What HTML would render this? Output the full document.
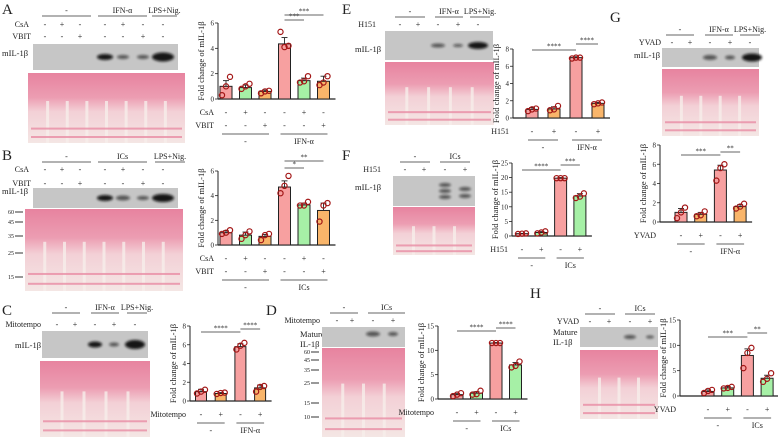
<!DOCTYPE html>
<html><head><meta charset="utf-8"><style>
html,body{margin:0;padding:0;background:#fff;}
svg{display:block;font-family:"Liberation Serif",serif;}
</style></head><body>
<svg id="fig" width="778" height="437" viewBox="0 0 778 437" xmlns="http://www.w3.org/2000/svg">
<defs>
<filter id="blur" x="-50%" y="-100%" width="200%" height="300%"><feGaussianBlur stdDeviation="1.4"/></filter>
<linearGradient id="pon" x1="0" y1="0" x2="0" y2="1">
<stop offset="0" stop-color="#e7839f"/><stop offset="0.35" stop-color="#ec9db2"/><stop offset="0.55" stop-color="#f3d0d6"/><stop offset="1" stop-color="#f4e6e4"/>
</linearGradient>
</defs>
</svg>
<script>
// ---- chart data ----
const aMeans=[1.0,0.9,0.6,4.35,1.45,1.4], aErr=[0.45,0.2,0.1,0.5,0.2,0.4];
const aDots=[[0.3,1.0,1.75],[0.8,1.0,1.2],[0.45,0.6,0.65],[5.3,4.1,4.2],[1.3,1.4,1.8],[1.1,1.3,1.8]];
const aTicks=[0,2,4,6];
const bMeans=[1.0,0.8,0.7,4.7,3.25,2.8], bErr=[0.15,0.25,0.15,0.5,0.15,0.6];
const bDots=[[0.9,1.0,1.2],[0.5,0.8,1.1],[0.4,0.8,0.9],[4.2,4.8,5.6],[3.2,3.2,3.5],[1.9,3.2,3.4]];
const bTicks=[0,2,4,6];
const cMeans=[1.0,0.8,5.8,1.4], cErr=[0.25,0.1,0.3,0.3];
const cDots=[[0.8,1.0,1.2],[0.75,0.85,0.9],[5.5,5.9,6.2],[1.0,1.5,1.6]];
const cTicks=[0,2,4,6,8];
const dMeans=[0.9,1.2,11.5,7.0], dErr=[0.2,0.3,0.1,0.5];
const dDots=[[0.6,0.9,1.2],[0.9,1.0,1.7],[11.5,11.5,11.5],[6.5,6.8,7.7]];
const dTicks=[0,5,10,15];
const eMeans=[1.0,1.05,7.0,1.7], eErr=[0.2,0.25,0.1,0.1];
const eDots=[[0.8,1.0,1.1],[0.9,1.0,1.4],[6.9,7.0,7.0],[1.6,1.7,1.8]];
const eTicks=[0,2,4,6,8];
const fMeans=[0.8,1.2,19.8,13.7], fErr=[0.1,0.3,0.2,0.8];
const fDots=[[0.7,0.8,0.9],[0.9,1.2,1.6],[19.8,19.8,19.8],[13.0,13.5,14.6]];
const fTicks=[0,5,10,15,20,25];
const gMeans=[1.0,0.8,5.4,1.6], gErr=[0.4,0.2,0.5,0.2];
const gDots=[[0.4,1.0,1.5],[0.6,0.7,1.1],[4.3,5.6,6.0],[1.4,1.6,1.9]];
const gTicks=[0,2,4,6,8];
const hMeans=[0.9,1.6,8.0,3.5], hErr=[0.3,0.3,1.3,0.6];
const hDots=[[0.6,1.0,1.2],[1.5,1.6,1.8],[5.5,8.5,9.5],[2.8,3.4,4.5]];
const hTicks=[0,5,10,15];
const rowPM6a=['-','+','-','-','+','-'], rowPM6b=['-','-','+','-','-','+'];
const rowPM4=['-','+','-','+'];
const aSig=[[3,4,'***'],[3,5,'***']], bSig=[[3,4,'*'],[3,5,'**']];
const cSig=[[0,2,'****'],[2,3,'****']], dSig=[[0,2,'****'],[2,3,'****']];
const eSig=[[0,2,'****'],[2,3,'****']], fSig=[[0,2,'****'],[2,3,'***']];
const gSig=[[0,2,'***'],[2,3,'**']], hSig=[[0,2,'***'],[2,3,'**']];
const COL={p:'#f7a0a0',g:'#a6f0a6',o:'#f9b56a'};

const NS='http://www.w3.org/2000/svg';
const svg=document.getElementById('fig');
function el(tag,attrs,parent){const e=document.createElementNS(NS,tag);for(const k in attrs)e.setAttribute(k,attrs[k]);(parent||svg).appendChild(e);return e;}
function grp(name){const g=el('g',{});


return g;}
function txt(p,x,y,s,size,anchor,name){const e=el('text',{x:x,y:y,'font-size':size,'text-anchor':anchor||'middle',fill:'#222'},p);e.textContent=s;


return e;}
function ln(p,x1,y1,x2,y2,w,c){return el('line',{x1:x1,y1:y1,x2:x2,y2:y2,stroke:c||'#333','stroke-width':w||0.8},p);}

function chart(name,G,means,errs,dots,ticks,colors,sig,rows,rowLabels,groups){
  const g=grp(name);
  const max=ticks[ticks.length-1];
  const Y=v=>G.y0-(v/max)*(G.y0-G.y1);
  const X=i=>G.bx0+i*G.step;
  const lastX=X(means.length-1)+G.bw/2+6;
  // y axis
  const ya=ln(g,G.ax,G.y0,G.ax,G.y1,1,'#222');
  
  
  ticks.forEach(t=>{ln(g,G.ax-3,Y(t),G.ax,Y(t),0.8,'#222');txt(g,G.ax-4,Y(t)+2.5,String(t),7,'end','y-tick-label');});
  const xa=ln(g,G.ax,G.y0,lastX,G.y0,1.2,'#222');
  
  
  const yt=txt(g,0,0,'Fold change of mIL-1β',8.5,'middle','y-axis-title');
  yt.setAttribute('transform','translate('+(G.ax-14)+','+((G.y0+G.y1)/2)+') rotate(-90)');
  means.forEach((m,i)=>{
    const b=el('rect',{x:X(i)-G.bw/2,y:Y(m),width:G.bw,height:G.y0-Y(m),fill:colors[i],stroke:'#222','stroke-width':1},g);
    
    
    const e=errs[i];
    ln(g,X(i),Y(m),X(i),Y(m+e),0.9,'#222');ln(g,X(i)-3,Y(m+e),X(i)+3,Y(m+e),0.9,'#222');
    dots[i].forEach((d,j)=>{const c=el('circle',{cx:X(i)+(j-1)*4,cy:Y(d),r:2.6,fill:'none',stroke:'#a31616','stroke-width':1.2},g);
      
      });
  });
  sig.forEach((s,k)=>{const yy=G.sigY[k];ln(g,X(s[0]),yy,X(s[1]),yy,0.8,'#333');txt(g,(X(s[0])+X(s[1]))/2,yy-1.5,s[2],7,'middle','significance-label');});
  rows.forEach((r,ri)=>{const ry=G.y0+13+ri*13;txt(g,G.ax-4-(G.rowLabelOff||0),ry+3,rowLabels[ri],8,'end','condition-label');
    r.forEach((v,i)=>txt(g,X(i),ry+3,v,8,'middle','condition-mark'));});
  const gy=G.y0+13+rows.length*13-4;
  const n=means.length/2;
  groups.forEach((gl,k)=>{const a=X(k*n)-4,b=X(k*n+n-1)+4;ln(g,a,gy,b,gy,0.8,'#333');txt(g,(a+b)/2,gy+10,gl,8,'middle','group-label');});
}

function letter(x,y,s){const t=txt(svg,x,y,s,15,'start','panel-label-'+s.toLowerCase());}
function header(segs,y){segs.forEach(s=>{ln(svg,s[0],y,s[1],y,0.8,'#333');txt(svg,(s[0]+s[1])/2,y-3,s[2],8,'middle','treatment-header');});}
function condRow(label,lx,xs,vals,y){txt(svg,lx,y,label,8,'end','condition-label');xs.forEach((x,i)=>txt(svg,x,y,vals[i],8,'middle','condition-mark'));}
function blot(name,x,y,w,h,bands){const g=grp(name);
  el('rect',{x:x,y:y,width:w,height:h,fill:'#c6c6c6'},g);
  bands.forEach(b=>el('ellipse',{cx:b[0],cy:y+h/2+(b[3]||0),rx:b[1],ry:b[2]*0.5+1,fill:'#0a0a0a',opacity:b[2]>3?0.95:0.6,filter:'url(#blur)'},g));}
function ponceau(name,x,y,w,h,lanes){const g=grp(name);
  el('rect',{x:x,y:y,width:w,height:h,fill:'url(#pon)'},g);
  for(let i=1;i<lanes;i++){const lx=x+i*w/lanes;el('rect',{x:lx-1.5,y:y+h*0.4,width:3,height:h*0.6,fill:'#f6eeea',opacity:0.8},g);}
  [0.78,0.9].forEach(f=>el('rect',{x:x+3,y:y+h*f,width:w-6,height:2,fill:'#e88ca4',opacity:0.8},g));}
function markers(list,x){list.forEach(m=>{txt(svg,x,m[1]+2,m[0],6,'end','mw-marker');ln(svg,x+1,m[1],x+9,m[1],1,'#333');});}

// ---- Panel A ----
letter(2,14,'A');
header([[42,91,'-'],[98,147,'IFN-α'],[152,177,'LPS+Nig.']],16);
const xsA=[45,62,80,105,123,143,163];
condRow('CsA',29,xsA,['-','+','-','-','+','-','-'],27);
condRow('VBIT',31,xsA,['-','-','+','-','-','+','-'],39);
txt(svg,2,56,'mIL-1β',8.5,'start','blot-label');
blot('blot-a',33,44,145,26,[[105,8,4],[123,6,2],[143,6,2],[163,11,7]]);
ponceau('ponceau-a',28,73,157,70,8);
chart('chart-a',{ax:218,y0:99,y1:23,bx0:226,step:19.5,bw:12,sigY:[20,15]},aMeans,aErr,aDots,aTicks,[COL.p,COL.g,COL.o,COL.p,COL.g,COL.o],aSig,[rowPM6a,rowPM6b],['CsA','VBIT'],['-','IFN-α']);

// ---- Panel B ----
letter(2,160,'B');
header([[42,91,'-'],[98,147,'ICs'],[155,185,'LPS+Nig.']],162);
condRow('CsA',29,xsA,['-','+','-','-','+','-','-'],172);
condRow('VBIT',31,xsA,['-','-','+','-','-','+','-'],186);
txt(svg,2,194,'mIL-1β',8.5,'start','blot-label');
blot('blot-b',33,188,145,20,[[105,8,4],[123,7,3],[143,6,2],[163,11,6]]);
ponceau('ponceau-b',25,209,158,82,8);
markers([['60',212],['45',222],['35',236],['25',253],['15',277]],14);
chart('chart-b',{ax:218,y0:245,y1:171,bx0:226,step:19.5,bw:12,sigY:[168,161]},bMeans,bErr,bDots,bTicks,[COL.p,COL.g,COL.o,COL.p,COL.g,COL.o],bSig,[rowPM6a,rowPM6b],['CsA','VBIT'],['-','ICs']);

// ---- Panel C ----
letter(2,315,'C');
header([[52,80,'-'],[91,119,'IFN-α'],[127,147,'LPS+Nig.']],313);
condRow('Mitotempo',41,[57,75,95,114,135],['-','+','-','+','-'],327);
txt(svg,15,348,'mIL-1β',8.5,'start','blot-label');
blot('blot-c',42,331,106,27,[[95,7,4],[114,5,2],[135,10,7]]);
ponceau('ponceau-c',40,361,110,76,5);
chart('chart-c',{ax:190,y0:401,y1:326,bx0:201,step:19.7,bw:11,sigY:[332,329]},cMeans,cErr,cDots,cTicks,[COL.p,COL.o,COL.p,COL.o],cSig,[rowPM4],['Mitotempo'],['-','IFN-α']);

// ---- Panel D ----
letter(266,315,'D');
header([[330,358,'-'],[368,405,'ICs']],313);
condRow('Mitotempo',320,[337,352,373,393],['-','+','-','+'],323);
txt(svg,300,337,'Mature',8.5,'start','blot-label');
txt(svg,300,347,'IL-1β',8.5,'start','blot-label');
blot('blot-d',322,327,83,20,[[373,7,3,-3],[393,5,2,-3]]);
ponceau('ponceau-d',322,348,83,89,4);
markers([['60',352],['45',360],['35',370],['25',383],['15',403],['10',417]],310);
chart('chart-d',{ax:438,y0:399,y1:326,bx0:457,step:19.5,bw:12,sigY:[331,328]},dMeans,dErr,dDots,dTicks,[COL.p,COL.g,COL.p,COL.g],dSig,[rowPM4],['Mitotempo'],['-','ICs']);

// ---- Panel E ----
letter(342,14,'E');
header([[395,425,'-'],[435,463,'IFN-α'],[470,490,'LPS+Nig.']],17);
condRow('H151',376,[400,418,438,458,478],['-','+','-','+','-'],27);
txt(svg,355,52,'mIL-1β',8.5,'start','blot-label');
blot('blot-e',385,31,108,29,[[438,7,2],[458,5,1],[478,10,5]]);
ponceau('ponceau-e',385,62,109,63,5);
chart('chart-e',{ax:513,y0:118,y1:49,bx0:532,step:22,bw:12,sigY:[50,44]},eMeans,eErr,eDots,eTicks,[COL.p,COL.o,COL.p,COL.o],eSig,[rowPM4],['H151'],['-','IFN-α']);

// ---- Panel F ----
letter(342,160,'F');
header([[400,430,'-'],[440,470,'ICs']],162);
condRow('H151',381,[405,424,445,465],['-','+','-','+'],172);
txt(svg,355,190,'mIL-1β',8.5,'start','blot-label');
blot('blot-f',393,176,82,30,[[445,6,2,-6],[445,6,2,0],[445,6,2,6],[465,6,2,-2],[465,6,2,5]]);
ponceau('ponceau-f',393,207,82,48,4);
chart('chart-f',{ax:512,y0:236,y1:163,bx0:522,step:19.3,bw:12,sigY:[170,165]},fMeans,fErr,fDots,fTicks,[COL.p,COL.g,COL.p,COL.g],fSig,[rowPM4],['H151'],['-','ICs']);

// ---- Panel G ----
letter(610,22,'G');
header([[666,694,'-'],[705,733,'IFN-α'],[740,760,'LPS+Nig.']],35);
condRow('YVAD',661,[672,690,710,730,750],['-','+','-','+','-'],45);
txt(svg,634,58,'mIL-1β',8.5,'start','blot-label');
blot('blot-g',662,48,97,19,[[710,7,3],[730,5,2],[752,10,6]]);
ponceau('ponceau-g',662,69,97,67,5);
chart('chart-g',{ax:660,y0:222,y1:145,bx0:681,step:19.7,bw:12,sigY:[155,152]},gMeans,gErr,gDots,gTicks,[COL.p,COL.o,COL.p,COL.o],gSig,[rowPM4],['YVAD'],['-','IFN-α']);

// ---- Panel H ----
letter(530,298,'H');
header([[585,615,'-'],[625,655,'ICs']],314);
condRow('YVAD',579,[590,609,630,650],['-','+','-','+'],324);
txt(svg,553,335,'Mature',8.5,'start','blot-label');
txt(svg,553,345,'IL-1β',8.5,'start','blot-label');
blot('blot-h',580,327,78,20,[[630,6,2],[650,4,1]]);
ponceau('ponceau-h',580,350,78,69,4);
chart('chart-h',{ax:680,y0:396,y1:320,bx0:708,step:19.7,bw:12,sigY:[337,333]},hMeans,hErr,hDots,hTicks,[COL.p,COL.g,COL.p,COL.g],hSig,[rowPM4],['YVAD'],['-','ICs']);
</script>
</body></html>
